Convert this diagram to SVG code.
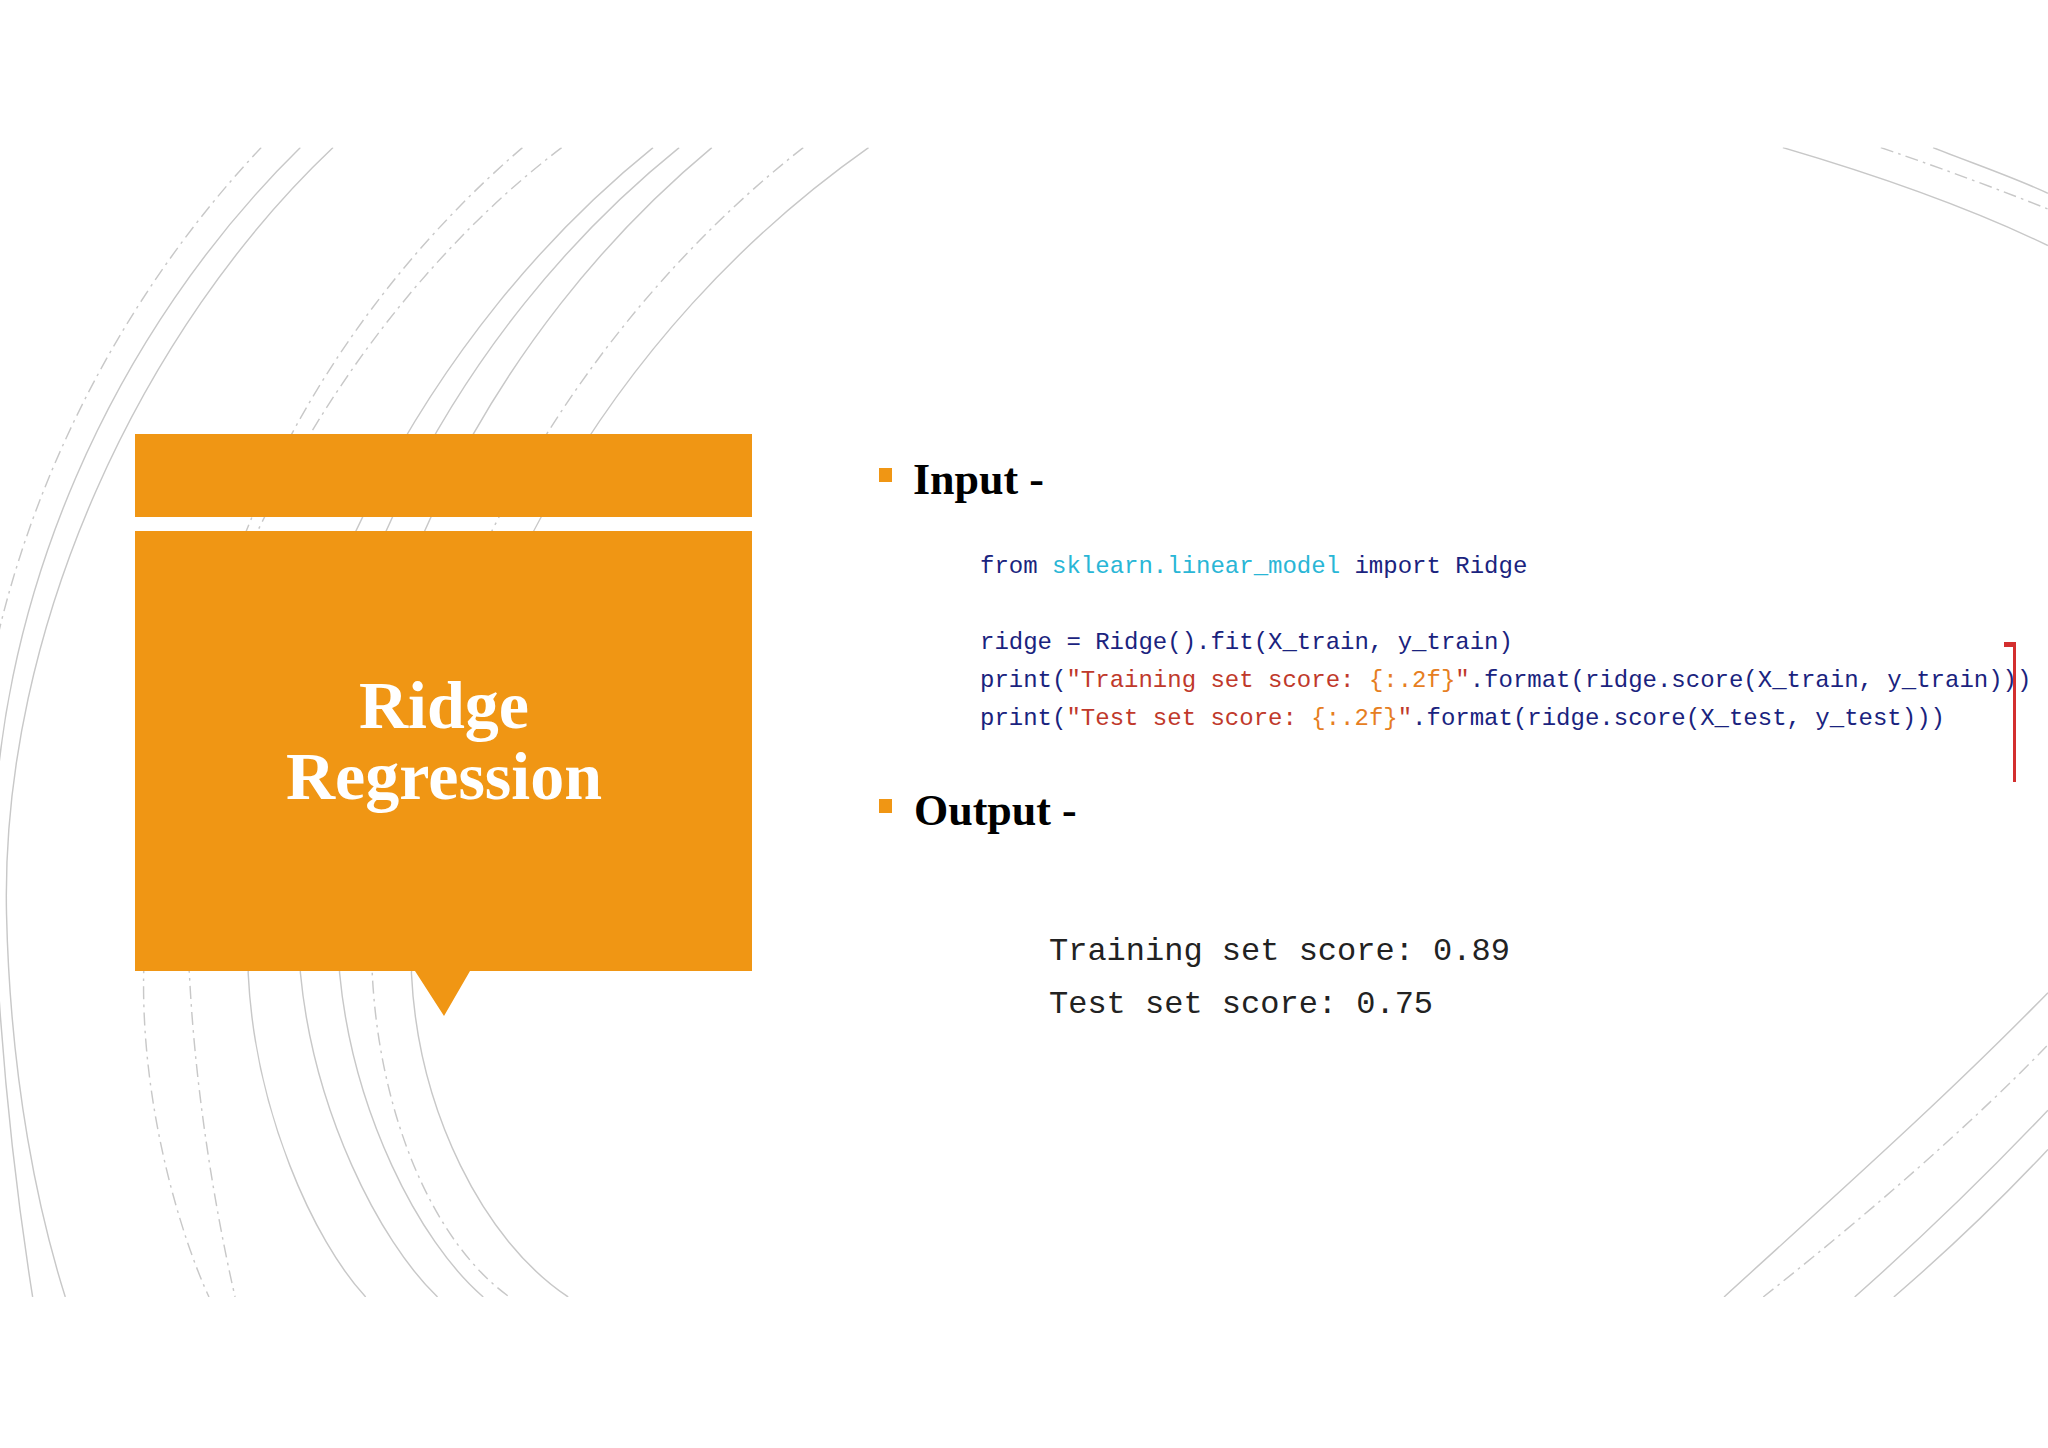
<svg xmlns="http://www.w3.org/2000/svg" width="2048" height="1448" viewBox="0 0 2048 1448">
<style>
.arc{fill:none;stroke:#c8c8c8;stroke-width:1.1}
.dash{stroke-dasharray:10 4 2 4}
.code{font-family:"Liberation Mono","DejaVu Sans Mono",monospace;font-size:24px}
.head{font-family:"Liberation Serif",serif;font-weight:bold;font-size:44px;fill:#000}
.out{font-family:"Liberation Mono","DejaVu Sans Mono",monospace;font-size:32px;fill:#222}
</style>
<defs><clipPath id="c"><rect x="0" y="113" width="1568" height="880"/></clipPath></defs>
<rect width="2048" height="1448" fill="#fff"/>
<g id="background" transform="scale(1.3061)" clip-path="url(#c)">
<path class="arc" d="M255,113 C110,250 0,480 5,700 C8,830 30,930 50,993"/>
<path class="arc" d="M230,113 C90,250 -10,460 -5,680 C0,820 15,930 25,993"/>
<path class="arc dash" d="M200,113 C70,250 -20,450 -20,640"/>
<path class="arc dash" d="M430,113 C250,250 120,500 110,745 C108,850 140,950 160,993"/>
<path class="arc dash" d="M400,113 C240,250 110,480 145,745 C150,850 170,950 180,993"/>
<path class="arc" d="M500,113 C330,250 200,480 190,745 C195,850 240,950 280,993"/>
<path class="arc" d="M520,113 C350,250 220,480 230,745 C240,850 290,950 335,993"/>
<path class="arc" d="M545,113 C380,250 250,480 260,745 C270,850 320,950 370,993"/>
<path class="arc dash" d="M615,113 C440,250 300,480 285,745 C290,850 330,950 390,993"/>
<path class="arc" d="M665,113 C470,250 330,480 315,745 C320,850 370,950 435,993"/>
<path class="arc" d="M1365,113 C1440,135 1510,160 1568,188"/>
<path class="arc dash" d="M1440,113 C1490,130 1530,145 1568,160"/>
<path class="arc" d="M1480,113 C1510,125 1540,135 1568,148"/>
<path class="arc" d="M1320,993 C1400,920 1490,840 1568,760"/>
<path class="arc dash" d="M1350,993 C1430,930 1510,860 1568,800"/>
<path class="arc" d="M1420,993 C1480,940 1530,890 1568,850"/>
<path class="arc" d="M1450,993 C1500,950 1540,910 1568,880"/>
</g>
<g id="title-box">
<rect x="135" y="434" width="617" height="83" fill="#f09614"/>
<path d="M135,531 H752 V971 H470 L444,1016 L415,971 H135 Z" fill="#f09614"/>
<text x="444" y="728" text-anchor="middle" font-family="Liberation Serif,serif" font-weight="bold" font-size="68" fill="#fff">Ridge</text>
<text x="444" y="799" text-anchor="middle" font-family="Liberation Serif,serif" font-weight="bold" font-size="68" fill="#fff">Regression</text>
</g>
<g id="input">
<rect x="879" y="468" width="13" height="14" fill="#f09614"/>
<text class="head" x="913" y="494">Input -</text>
<text class="code" x="980" y="573"><tspan fill="#1a237e">from </tspan><tspan fill="#29b6d6">sklearn.linear_model </tspan><tspan fill="#1a237e">import Ridge</tspan></text>
<text class="code" x="980" y="649" fill="#1a237e">ridge = Ridge().fit(X_train, y_train)</text>
<text class="code" x="980" y="687"><tspan fill="#1a237e">print(</tspan><tspan fill="#c0392b">"Training set score: </tspan><tspan fill="#e67e22">{:.2f}</tspan><tspan fill="#c0392b">"</tspan><tspan fill="#1a237e">.format(ridge.score(X_train, y_train)))</tspan></text>
<text class="code" x="980" y="725"><tspan fill="#1a237e">print(</tspan><tspan fill="#c0392b">"Test set score: </tspan><tspan fill="#e67e22">{:.2f}</tspan><tspan fill="#c0392b">"</tspan><tspan fill="#1a237e">.format(ridge.score(X_test, y_test)))</tspan></text>
<rect x="2004" y="642" width="12" height="5" fill="#d32f2f"/>
<rect x="2013" y="642" width="3" height="140" fill="#d32f2f"/>
</g>
<g id="output">
<rect x="879" y="799" width="13" height="14" fill="#f09614"/>
<text class="head" x="914" y="825">Output -</text>
<text class="out" x="1049" y="960">Training set score: 0.89</text>
<text class="out" x="1049" y="1013">Test set score: 0.75</text>
</g>
</svg>
